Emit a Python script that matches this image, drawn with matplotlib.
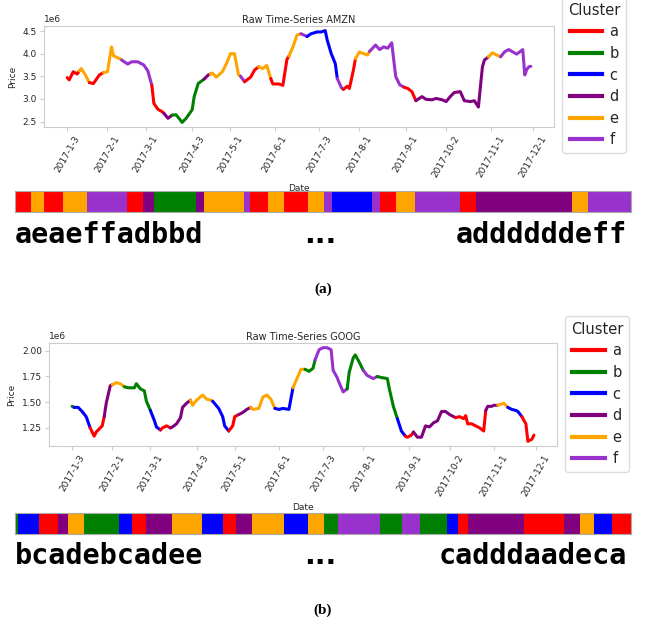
"""Raw time-series of two tickers coloured by cluster, with symbol strips below."""

import numpy as np
import pandas as pd
import matplotlib

matplotlib.use("Agg")
import matplotlib.pyplot as plt
from matplotlib.lines import Line2D

# ==========================================
# DATA
# ==========================================

CLUSTERS = ["a", "b", "c", "d", "e", "f"]
CLUSTER_COLORS = {
    "a": "red",
    "b": "green",
    "c": "blue",
    "d": "purple",
    "e": "orange",
    "f": "darkorchid",
}

TICK_LABELS = [
    "2017-1-3", "2017-2-1", "2017-3-1", "2017-4-3", "2017-5-1", "2017-6-1",
    "2017-7-3", "2017-8-1", "2017-9-1", "2017-10-2", "2017-11-1", "2017-12-1",
]
# market holidays, so the x axis runs over trading days
HOLIDAYS = [
    "2017-01-02", "2017-01-16", "2017-02-20", "2017-04-14",
    "2017-05-29", "2017-07-04", "2017-09-04", "2017-11-23",
]

# AMZN: trading-day index and price (in millions)
AMZN_DAYS = [
    0, 1, 3, 5, 6, 7, 9, 11, 13, 16, 18, 20, 22, 23, 26, 27, 30, 32, 35, 38,
    40, 42, 43, 45, 47, 48, 50, 52, 54, 56, 57, 59, 62, 63, 65, 68, 70, 71,
    72, 74, 77, 79, 81, 83, 85, 86, 88, 91, 93, 95, 97, 99, 101, 102, 105,
    107, 109, 110, 112, 114, 116, 119, 121, 124, 126, 128, 129, 131, 133,
    134, 136, 137, 139, 140, 142, 143, 145, 147, 149, 150, 153, 155, 157,
    159, 161, 162, 163, 165, 167, 169, 171, 173, 176, 178, 181, 183, 186,
    188, 190, 192, 195, 197, 200, 202, 204, 205, 206, 207, 209, 211, 213,
    215, 217, 219, 221, 223, 226, 227, 228, 229, 230,
]
AMZN_PRICE = [
    3.47, 3.42, 3.60, 3.55, 3.62, 3.67, 3.53, 3.36, 3.34, 3.53, 3.58, 3.60,
    4.15, 3.95, 3.89, 3.86, 3.77, 3.82, 3.82, 3.75, 3.62, 3.30, 2.90, 2.77,
    2.72, 2.68, 2.57, 2.64, 2.65, 2.54, 2.48, 2.57, 2.76, 3.05, 3.34, 3.44,
    3.53, 3.55, 3.57, 3.48, 3.60, 3.78, 4.00, 4.00, 3.53, 3.50, 3.38, 3.48,
    3.64, 3.71, 3.67, 3.74, 3.45, 3.33, 3.33, 3.30, 3.87, 3.95, 4.15, 4.41,
    4.44, 4.38, 4.44, 4.48, 4.48, 4.51, 4.30, 4.00, 3.78, 3.45, 3.25, 3.21,
    3.28, 3.23, 3.64, 3.89, 4.04, 4.00, 3.97, 4.05, 4.19, 4.09, 4.15, 4.12,
    4.24, 3.86, 3.49, 3.31, 3.26, 3.23, 3.16, 2.96, 3.05, 2.99, 2.98, 3.01,
    2.98, 2.94, 3.05, 3.14, 3.16, 2.96, 2.94, 2.96, 2.82, 3.27, 3.71, 3.86,
    3.93, 4.02, 3.97, 3.93, 4.04, 4.09, 4.04, 3.99, 4.09, 3.53, 3.65, 3.71,
    3.72,
]
AMZN_RUN_LABELS = "aeaefadbdefaeaefcfaefadef"
AMZN_RUN_LENGTHS = [6, 5, 7, 9, 15, 6, 4, 16, 3, 15, 2, 7, 6, 9, 6, 3, 15, 3,
                    6, 7, 17, 6, 36, 6, 16]
AMZN_HEAD = "aeaeffadbbd"
AMZN_TAIL = "addddddeff"

# GOOG: trading-day index and price (in millions)
GOOG_DAYS = [
    0, 1, 3, 5, 7, 9, 11, 12, 14, 15, 16, 17, 19, 20, 22, 24, 26, 28, 31, 32,
    34, 36, 37, 39, 41, 42, 44, 45, 47, 49, 50, 52, 54, 55, 57, 59, 60, 62,
    65, 67, 69, 70, 73, 75, 76, 78, 80, 81, 83, 85, 87, 89, 90, 93, 95, 97,
    99, 101, 103, 105, 108, 110, 112, 114, 116, 118, 120, 121, 123, 125, 127,
    129, 130, 132, 133, 135, 137, 138, 140, 141, 143, 145, 147, 150, 152,
    154, 157, 158, 160, 162, 164, 166, 167, 169, 170, 172, 174, 176, 178,
    180, 182, 184, 186, 188, 191, 193, 195, 196, 197, 199, 201, 203, 205,
    206, 207, 209, 210, 212, 215, 217, 219, 221, 222, 224, 226, 227, 229, 230,
]
GOOG_PRICE = [
    1.46, 1.45, 1.45, 1.41, 1.36, 1.25, 1.17, 1.21, 1.25, 1.27, 1.36, 1.49,
    1.66, 1.67, 1.69, 1.68, 1.65, 1.64, 1.64, 1.68, 1.63, 1.61, 1.51, 1.42,
    1.32, 1.26, 1.23, 1.25, 1.27, 1.25, 1.26, 1.29, 1.35, 1.45, 1.49, 1.52,
    1.47, 1.52, 1.57, 1.53, 1.52, 1.51, 1.44, 1.36, 1.27, 1.22, 1.27, 1.36,
    1.38, 1.40, 1.43, 1.45, 1.43, 1.44, 1.55, 1.57, 1.53, 1.44, 1.43, 1.44,
    1.43, 1.64, 1.73, 1.82, 1.82, 1.80, 1.83, 1.91, 2.01, 2.03, 2.03, 2.01,
    1.81, 1.74, 1.69, 1.60, 1.63, 1.79, 1.93, 1.96, 1.89, 1.81, 1.76, 1.73,
    1.75, 1.74, 1.73, 1.63, 1.46, 1.34, 1.22, 1.17, 1.16, 1.18, 1.21, 1.16,
    1.16, 1.27, 1.26, 1.30, 1.32, 1.41, 1.41, 1.38, 1.35, 1.36, 1.34, 1.37,
    1.29, 1.29, 1.27, 1.25, 1.22, 1.42, 1.46, 1.46, 1.47, 1.47, 1.49, 1.45,
    1.43, 1.42, 1.41, 1.36, 1.29, 1.12, 1.14, 1.18,
]
GOOG_RUN_LABELS = "bcadebcadecadecebfbfbcadadeca"
GOOG_RUN_LENGTHS = [1, 8, 7, 4, 6, 13, 5, 5, 10, 11, 8, 5, 6, 12, 9, 6, 5, 16,
                    8, 7, 10, 4, 4, 21, 15, 6, 5, 7, 7]
GOOG_HEAD = "bcadebcadee"
GOOG_TAIL = "cadddaadeca"

TEXT_COLOR = "#262626"
FRAME_COLOR = "#cccccc"


def trading_days():
    return pd.bdate_range("2017-01-03", "2017-12-01", freq="C", holidays=HOLIDAYS)


def draw_series(ax, days, price, run_labels, run_lengths, name, yticks=None):
    days = np.asarray(days)
    price = np.asarray(price) * 1e6

    start = 0
    for lab, n in zip(run_labels, run_lengths):
        end = start + n
        m = (days >= start) & (days <= end)
        ax.plot(days[m], price[m], color=CLUSTER_COLORS[lab], lw=2.2,
                solid_capstyle="round")
        start = end

    cal = trading_days()
    ticks = [cal.get_loc(pd.Timestamp(t)) for t in TICK_LABELS]
    ax.set_xticks(ticks, TICK_LABELS, rotation=60)
    if yticks is not None:
        ax.set_yticks(np.asarray(yticks) * 1e6)

    ax.set_title(f"Raw Time-Series {name}", fontsize=7, pad=2, color=TEXT_COLOR)
    ax.set_xlabel("Date", fontsize=6.5, color=TEXT_COLOR)
    ax.set_ylabel("Price", fontsize=6.5, color=TEXT_COLOR)
    ax.tick_params(labelsize=6.5, length=3, width=0.8, color=FRAME_COLOR,
                   labelcolor=TEXT_COLOR, pad=2)
    ax.yaxis.get_offset_text().set_fontsize(6.5)
    ax.yaxis.get_offset_text().set_color(TEXT_COLOR)
    for sp in ax.spines.values():
        sp.set_color(FRAME_COLOR)
        sp.set_linewidth(0.8)


def draw_legend(ax, top):
    handles = [Line2D([], [], color=CLUSTER_COLORS[c], lw=3) for c in CLUSTERS]
    leg = ax.legend(
        handles, CLUSTERS, title="Cluster", loc="upper left",
        bbox_to_anchor=(1.016, top), borderaxespad=0, fontsize=10.5,
        title_fontsize=10.5, handlelength=2.2, handletextpad=0.55,
        labelspacing=0.45, framealpha=1, edgecolor="#dddddd",
    )
    leg.get_title().set_color(TEXT_COLOR)
    for t in leg.get_texts():
        t.set_color(TEXT_COLOR)


def draw_strip(ax, run_labels, run_lengths):
    lengths = np.asarray(run_lengths)
    starts = np.concatenate([[0], np.cumsum(lengths)[:-1]])
    colors = [CLUSTER_COLORS[c] for c in run_labels]
    ax.barh(0, lengths, left=starts, height=1, color=colors, linewidth=0)
    ax.set_xlim(0, lengths.sum())
    ax.set_ylim(-0.5, 0.5)
    ax.set_xticks([])
    ax.set_yticks([])
    for sp in ax.spines.values():
        sp.set_color("#aaaaaa")
        sp.set_linewidth(0.8)


def draw_symbols(fig, head, tail, y, label, label_y):
    mono = dict(family="DejaVu Sans Mono", fontsize=20.5, va="baseline",
                color="black", fontweight="semibold")
    fig.text(15 / 650, y, head, ha="left", **mono)
    fig.text(627 / 650, y, tail, ha="right", **mono)
    fig.text(320 / 650, y, "...", ha="center", va="baseline", color="black",
             family="DejaVu Sans", fontweight="bold", fontsize=20.5)
    fig.text(323 / 650, label_y, label, ha="center", va="baseline",
             family="Liberation Serif", fontweight="bold", fontsize=11)


fig = plt.figure(figsize=(6.5, 6.28), dpi=100)

ax_a = fig.add_axes([44 / 650, 1 - 127 / 628, 510 / 650, 101 / 628])
strip_a = fig.add_axes([15 / 650, 1 - 211.7 / 628, 616 / 650, 20.7 / 628])
ax_b = fig.add_axes([49 / 650, 1 - 446 / 628, 508 / 650, 103 / 628])
strip_b = fig.add_axes([15 / 650, 1 - 534 / 628, 616 / 650, 21 / 628])

draw_series(ax_a, AMZN_DAYS, AMZN_PRICE, AMZN_RUN_LABELS, AMZN_RUN_LENGTHS,
            "AMZN")
draw_legend(ax_a, 1.287)
draw_strip(strip_a, AMZN_RUN_LABELS, AMZN_RUN_LENGTHS)
draw_symbols(fig, AMZN_HEAD, AMZN_TAIL, 1 - 243 / 628, "(a)", 1 - 293 / 628)

draw_series(ax_b, GOOG_DAYS, GOOG_PRICE, GOOG_RUN_LABELS, GOOG_RUN_LENGTHS,
            "GOOG", yticks=[1.25, 1.50, 1.75, 2.00])
draw_legend(ax_b, 1.262)
draw_strip(strip_b, GOOG_RUN_LABELS, GOOG_RUN_LENGTHS)
draw_symbols(fig, GOOG_HEAD, GOOG_TAIL, 1 - 564 / 628, "(b)", 1 - 614 / 628)

fig.savefig("out.png", dpi=100)
